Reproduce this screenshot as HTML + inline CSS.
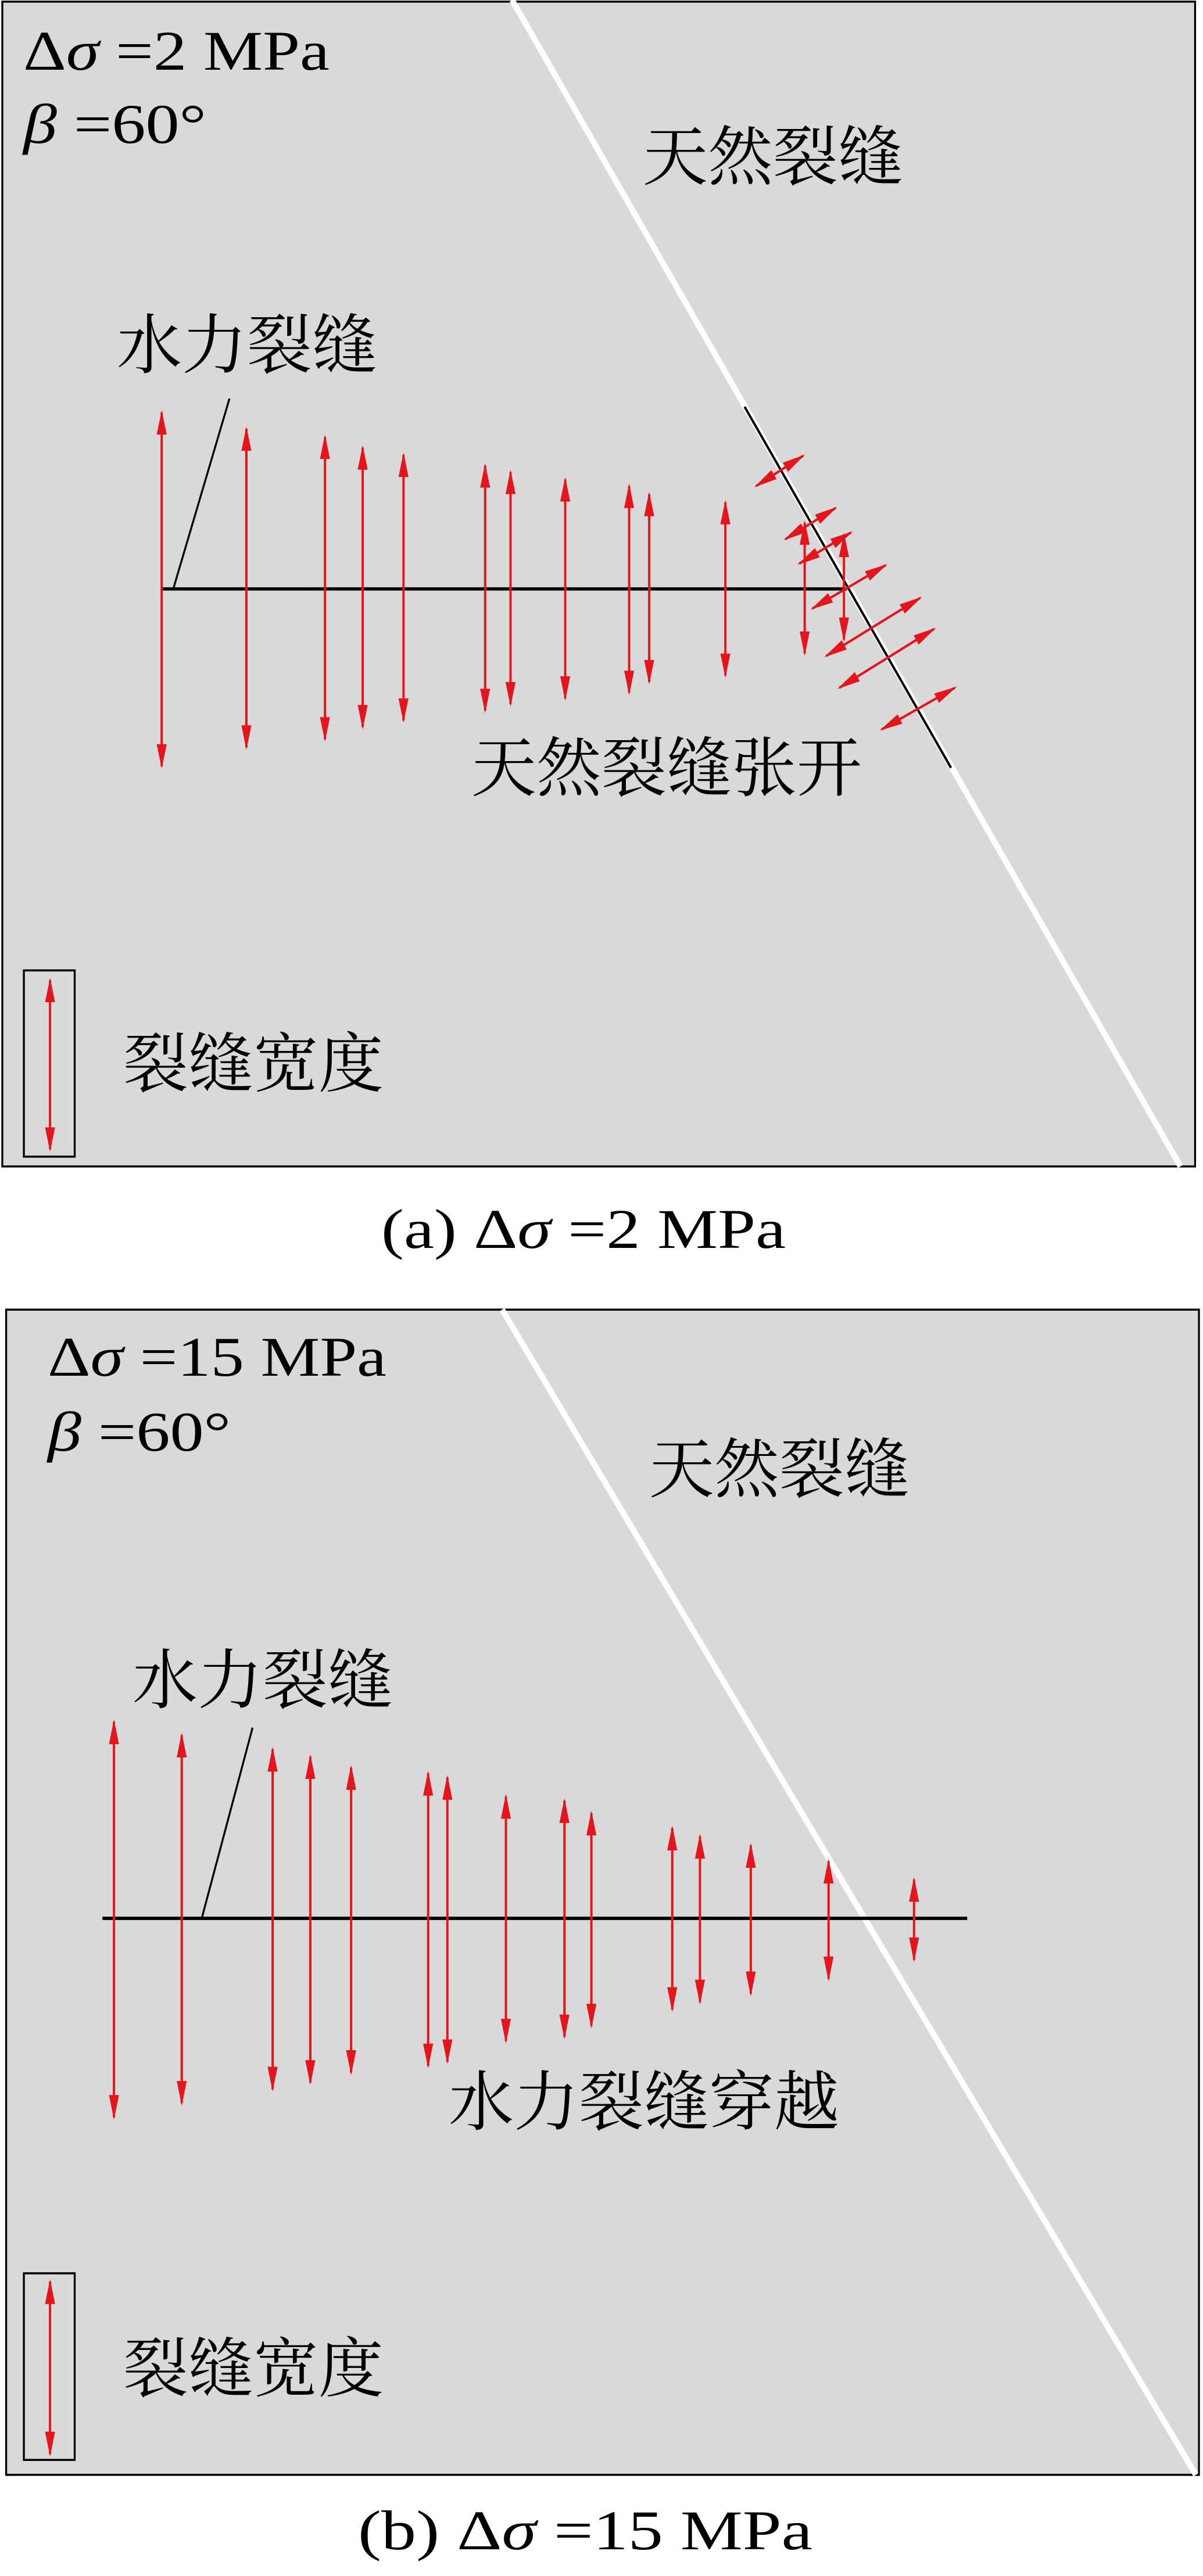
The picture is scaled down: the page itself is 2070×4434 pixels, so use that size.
<!DOCTYPE html>
<html><head><meta charset="utf-8"><style>
html,body{margin:0;padding:0;background:#fff}
svg{display:block}
text{font-family:"Liberation Serif","Noto Serif CJK SC","Noto Sans CJK SC",serif;fill:#000}
.cj{font-size:112px}
.lt{font-size:96px}
</style></head><body>
<svg width="2070" height="4434" viewBox="0 0 2070 4434" xmlns="http://www.w3.org/2000/svg">
<defs>
<marker id="ahB" viewBox="0 0 10 10" refX="9" refY="5" markerWidth="30" markerHeight="13" markerUnits="userSpaceOnUse" orient="auto-start-reverse" preserveAspectRatio="none">
<path d="M0,0 L10,5 L0,10 z" fill="#e3151d"/></marker>
</defs>
<rect width="2070" height="4434" fill="#fff"/>

<!-- Panel a -->
<g transform="scale(1.325,1.406)">
<rect x="3" y="2" width="1549" height="1426" fill="#d9d9d9" stroke="#000" stroke-width="2.5"/>
<line x1="665" y1="0" x2="1533" y2="1428" stroke="#fff" stroke-width="7.5"/>
<line x1="967" y1="498" x2="1235" y2="940" stroke="#000" stroke-width="3"/>
<line x1="210" y1="721" x2="1100" y2="721" stroke="#000" stroke-width="4"/>
<line x1="298" y1="488" x2="225" y2="721" stroke="#000" stroke-width="2.5"/>
<rect x="31" y="1188" width="66" height="228" fill="none" stroke="#000" stroke-width="2.5"/>
<g stroke="#e3151d" stroke-width="3">
<line x1="210" y1="505" x2="210" y2="938" marker-start="url(#ahB)" marker-end="url(#ahB)"/>
<line x1="320" y1="525" x2="320" y2="915" marker-start="url(#ahB)" marker-end="url(#ahB)"/>
<line x1="422" y1="535" x2="422" y2="905" marker-start="url(#ahB)" marker-end="url(#ahB)"/>
<line x1="471" y1="548" x2="471" y2="890" marker-start="url(#ahB)" marker-end="url(#ahB)"/>
<line x1="524" y1="557" x2="524" y2="882" marker-start="url(#ahB)" marker-end="url(#ahB)"/>
<line x1="630" y1="570" x2="630" y2="870" marker-start="url(#ahB)" marker-end="url(#ahB)"/>
<line x1="663" y1="578" x2="663" y2="862" marker-start="url(#ahB)" marker-end="url(#ahB)"/>
<line x1="734" y1="587" x2="734" y2="855" marker-start="url(#ahB)" marker-end="url(#ahB)"/>
<line x1="817" y1="595" x2="817" y2="848" marker-start="url(#ahB)" marker-end="url(#ahB)"/>
<line x1="843" y1="605" x2="843" y2="835" marker-start="url(#ahB)" marker-end="url(#ahB)"/>
<line x1="942" y1="615" x2="942" y2="827" marker-start="url(#ahB)" marker-end="url(#ahB)"/>
<line x1="1045" y1="640" x2="1045" y2="800" marker-start="url(#ahB)" marker-end="url(#ahB)"/>
<line x1="1096" y1="655" x2="1096" y2="783" marker-start="url(#ahB)" marker-end="url(#ahB)"/>
<line x1="982" y1="595" x2="1043" y2="558" marker-start="url(#ahB)" marker-end="url(#ahB)"/>
<line x1="1020" y1="660" x2="1085" y2="622" marker-start="url(#ahB)" marker-end="url(#ahB)"/>
<line x1="1038" y1="690" x2="1105" y2="652" marker-start="url(#ahB)" marker-end="url(#ahB)"/>
<line x1="1055" y1="745" x2="1150" y2="692" marker-start="url(#ahB)" marker-end="url(#ahB)"/>
<line x1="1073" y1="803" x2="1195" y2="732" marker-start="url(#ahB)" marker-end="url(#ahB)"/>
<line x1="1090" y1="842" x2="1213" y2="770" marker-start="url(#ahB)" marker-end="url(#ahB)"/>
<line x1="1145" y1="893" x2="1240" y2="842" marker-start="url(#ahB)" marker-end="url(#ahB)"/>
<line x1="65" y1="1200" x2="65" y2="1407" marker-start="url(#ahB)" marker-end="url(#ahB)"/>
</g>
</g>

<!-- Panel b -->
<g transform="translate(0,2200) scale(1.325,1.4275)">
<rect x="8" y="38" width="1549" height="1405" fill="#d9d9d9" stroke="#000" stroke-width="2.5"/>
<line x1="652" y1="38" x2="1553" y2="1443" stroke="#fff" stroke-width="7.5"/>
<line x1="133" y1="772" x2="1256" y2="772" stroke="#000" stroke-width="4"/>
<line x1="328" y1="542" x2="262" y2="772" stroke="#000" stroke-width="2.5"/>
<rect x="31" y="1200" width="66" height="225" fill="none" stroke="#000" stroke-width="2.5"/>
<g stroke="#e3151d" stroke-width="3">
<line x1="148" y1="535" x2="148" y2="1012" marker-start="url(#ahB)" marker-end="url(#ahB)"/>
<line x1="236" y1="551" x2="236" y2="995" marker-start="url(#ahB)" marker-end="url(#ahB)"/>
<line x1="354" y1="568" x2="354" y2="978" marker-start="url(#ahB)" marker-end="url(#ahB)"/>
<line x1="403" y1="577" x2="403" y2="970" marker-start="url(#ahB)" marker-end="url(#ahB)"/>
<line x1="456" y1="590" x2="456" y2="958" marker-start="url(#ahB)" marker-end="url(#ahB)"/>
<line x1="556" y1="597" x2="556" y2="950" marker-start="url(#ahB)" marker-end="url(#ahB)"/>
<line x1="581" y1="602" x2="581" y2="945" marker-start="url(#ahB)" marker-end="url(#ahB)"/>
<line x1="657" y1="625" x2="657" y2="920" marker-start="url(#ahB)" marker-end="url(#ahB)"/>
<line x1="733" y1="630" x2="733" y2="915" marker-start="url(#ahB)" marker-end="url(#ahB)"/>
<line x1="768" y1="645" x2="768" y2="902" marker-start="url(#ahB)" marker-end="url(#ahB)"/>
<line x1="873" y1="663" x2="873" y2="882" marker-start="url(#ahB)" marker-end="url(#ahB)"/>
<line x1="909" y1="673" x2="909" y2="873" marker-start="url(#ahB)" marker-end="url(#ahB)"/>
<line x1="975" y1="684" x2="975" y2="863" marker-start="url(#ahB)" marker-end="url(#ahB)"/>
<line x1="1076" y1="703" x2="1076" y2="845" marker-start="url(#ahB)" marker-end="url(#ahB)"/>
<line x1="1187" y1="725" x2="1187" y2="822" marker-start="url(#ahB)" marker-end="url(#ahB)"/>
<line x1="65" y1="1210" x2="65" y2="1418" marker-start="url(#ahB)" marker-end="url(#ahB)"/>
</g>
</g>

<!-- Text panel a -->
<text x="40" y="120" class="lt" textLength="527" lengthAdjust="spacingAndGlyphs">Δ<tspan font-style="italic">σ</tspan> =2 MPa</text>
<text x="40" y="246" class="lt" textLength="315" lengthAdjust="spacingAndGlyphs"><tspan font-style="italic">β</tspan> =60°</text>
<text x="1106" y="309" class="cj">天然裂缝</text>
<text x="201" y="633" class="cj">水力裂缝</text>
<text x="811" y="1361" class="cj">天然裂缝张开</text>
<text x="212" y="1870" class="cj">裂缝宽度</text>
<text x="656" y="2148" class="lt" font-size="100" textLength="696" lengthAdjust="spacingAndGlyphs">(a)  Δ<tspan font-style="italic">σ</tspan> =2 MPa</text>

<!-- Text panel b -->
<text x="82" y="2368" class="lt" textLength="583" lengthAdjust="spacingAndGlyphs">Δ<tspan font-style="italic">σ</tspan> =15 MPa</text>
<text x="82" y="2497" class="lt" textLength="315" lengthAdjust="spacingAndGlyphs"><tspan font-style="italic">β</tspan> =60°</text>
<text x="1117" y="2568" class="cj">天然裂缝</text>
<text x="228" y="2931" class="cj">水力裂缝</text>
<text x="772" y="3657" class="cj">水力裂缝穿越</text>
<text x="212" y="4116" class="cj">裂缝宽度</text>
<text x="616" y="4388" class="lt" font-size="100" textLength="782" lengthAdjust="spacingAndGlyphs">(b)  Δ<tspan font-style="italic">σ</tspan> =15 MPa</text>
</svg>
</body></html>
